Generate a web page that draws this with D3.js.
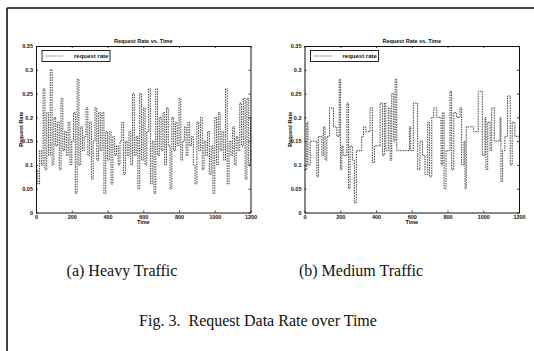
<!DOCTYPE html>
<html>
<head>
<meta charset="utf-8">
<script src="https://cdn.jsdelivr.net/npm/d3@7"></script>
<style>
  html, body { margin: 0; padding: 0; background: #fff; }
  svg { display: block; }
  text { white-space: pre; }
</style>
</head>
<body>
<svg id="chart" width="534" height="351"></svg>
<script>
// ---- data ----
const xTicks = [0, 200, 400, 600, 800, 1000, 1200];
const yTicks = [0, 0.05, 0.1, 0.15, 0.2, 0.25, 0.3, 0.35];
const yTickLabels = ["0", "0.05", "0.1", "0.15", "0.2", "0.25", "0.3", "0.35"];
const legendLabel = "request rate";
const plotTitle = "Request Rate vs. Time";
const xLabel = "Time";
const yLabel = "Request Rate";
const captions = ["(a) Heavy Traffic", "(b) Medium Traffic"];
const figCaption = "Fig. 3.  Request Data Rate over Time";

// Heavy traffic: sample every 10 time units (t = 0..1200)
const heavyTimes = d3.range(0, 1201, 10);
const heavyValues = [
  0.09, 0.06, 0.13, 0.10, 0.26, 0.09, 0.21, 0.12, 0.30, 0.10,
  0.20, 0.14, 0.19, 0.09, 0.24, 0.13, 0.17, 0.12, 0.19, 0.10,
  0.15, 0.21, 0.04, 0.28, 0.10, 0.18, 0.13, 0.16, 0.22, 0.12,
  0.19, 0.07, 0.15, 0.22, 0.11, 0.21, 0.13, 0.21, 0.04, 0.17,
  0.11, 0.17, 0.06, 0.16, 0.12, 0.14, 0.10, 0.15, 0.19, 0.08,
  0.15, 0.12, 0.17, 0.10, 0.25, 0.12, 0.16, 0.05, 0.25, 0.11,
  0.22, 0.10, 0.17, 0.26, 0.06, 0.15, 0.04, 0.26, 0.12, 0.20,
  0.13, 0.21, 0.10, 0.22, 0.14, 0.05, 0.20, 0.13, 0.19, 0.14,
  0.24, 0.11, 0.15, 0.18, 0.12, 0.19, 0.14, 0.16, 0.10, 0.06,
  0.19, 0.13, 0.20, 0.09, 0.15, 0.12, 0.17, 0.08, 0.14, 0.04,
  0.20, 0.10, 0.21, 0.13, 0.17, 0.11, 0.26, 0.06, 0.15, 0.12,
  0.18, 0.10, 0.16, 0.13, 0.23, 0.14, 0.24, 0.07, 0.24, 0.10, 0.20
];

// Medium traffic: step changes (time of change, new value)
const mediumTimes = [
  0, 13, 19, 32, 69, 78, 97, 106, 115, 125, 140, 162, 181, 194, 201, 209, 216,
  237, 246, 255, 268, 279, 290, 320, 330, 343, 367, 380, 391, 423, 436, 447,
  455, 469, 479, 488, 499, 507, 516, 587, 594, 609, 633, 646, 660, 674, 689,
  699, 712, 723, 740, 764, 773, 781, 792, 814, 823, 835, 851, 870, 879, 892,
  898, 905, 945, 972, 995, 1010, 1015, 1025, 1038, 1047, 1062, 1094, 1099,
  1108, 1121, 1136, 1151, 1162, 1177, 1200
];
const mediumValues = [
  0.09, 0.19, 0.10, 0.15, 0.075, 0.16, 0.12, 0.18, 0.11, 0.16, 0.22, 0.18, 0.16,
  0.28, 0.09, 0.14, 0.12, 0.23, 0.05, 0.14, 0.11, 0.02, 0.13, 0.16, 0.18, 0.17,
  0.22, 0.105, 0.14, 0.23, 0.12, 0.23, 0.13, 0.22, 0.11, 0.25, 0.15, 0.28, 0.13,
  0.18, 0.13, 0.23, 0.09, 0.15, 0.12, 0.08, 0.19, 0.075, 0.20, 0.22, 0.20, 0.10,
  0.21, 0.05, 0.13, 0.255, 0.09, 0.21, 0.20, 0.22, 0.10, 0.15, 0.05, 0.18, 0.17,
  0.255, 0.12, 0.20, 0.09, 0.19, 0.13, 0.22, 0.15, 0.20, 0.065, 0.13, 0.16,
  0.245, 0.10, 0.19, 0.16, 0.16
];

// ---- drawing ----
const svg = d3.select("#chart");

// page frame (scan border)
svg.append("line").attr("x1", 7).attr("y1", 8).attr("x2", 534).attr("y2", 8)
  .attr("stroke", "#111").attr("stroke-width", 1.4);
svg.append("line").attr("x1", 7).attr("y1", 8).attr("x2", 7).attr("y2", 351)
  .attr("stroke", "#111").attr("stroke-width", 1.6);

const panels = [
  { left: 36, times: heavyTimes, values: heavyValues, caption: captions[0], capX: 122 },
  { left: 304.5, times: mediumTimes, values: mediumValues, caption: captions[1], capX: 361 }
];
const plotTop = 46, plotBottom = 212.5, plotWidth = 214.5;
const tickFont = "Liberation Sans, Arial, sans-serif";
const serif = "Liberation Serif, Times New Roman, serif";

panels.forEach(p => {
  const g = svg.append("g");
  const x = d3.scaleLinear().domain([0, 1200]).range([p.left, p.left + plotWidth]);
  const y = d3.scaleLinear().domain([0, 0.35]).range([plotBottom, plotTop]);

  // data line
  const pts = p.times.map((t, i) => [t, p.values[i]]);
  const line = d3.line().x(d => x(d[0])).y(d => y(d[1])).curve(d3.curveStepAfter);
  g.append("path").datum(pts)
    .attr("d", line)
    .attr("fill", "none")
    .attr("stroke", "#222")
    .attr("stroke-width", 0.85)
    .attr("stroke-dasharray", "1.5,1");

  // axes (ticks inside, MATLAB style)
  const xAxis = d3.axisBottom(x).tickValues(xTicks).tickSizeInner(-2).tickSizeOuter(0)
    .tickFormat(d3.format("d")).tickPadding(3);
  const yAxis = d3.axisLeft(y).tickValues(yTicks).tickSizeInner(-2).tickSizeOuter(0)
    .tickFormat((d, i) => yTickLabels[i]).tickPadding(3);
  const xAxisTop = d3.axisTop(x).tickValues(xTicks).tickSizeInner(-2).tickSizeOuter(0).tickFormat("");
  const yAxisRight = d3.axisRight(y).tickValues(yTicks).tickSizeInner(-2).tickSizeOuter(0).tickFormat("");

  const gx = g.append("g").attr("transform", `translate(0,${plotBottom})`).call(xAxis);
  const gy = g.append("g").attr("transform", `translate(${p.left},0)`).call(yAxis);
  const gxt = g.append("g").attr("transform", `translate(0,${plotTop})`).call(xAxisTop);
  const gyr = g.append("g").attr("transform", `translate(${p.left + plotWidth},0)`).call(yAxisRight);
  [gx, gy, gxt, gyr].forEach(a => {
    a.selectAll(".domain").attr("stroke", "#111").attr("stroke-width", 1);
    a.selectAll(".tick line").attr("stroke", "#111").attr("stroke-width", 0.8);
    a.selectAll("text").attr("font-family", tickFont).attr("font-size", 5.5)
      .attr("font-weight", "bold").attr("fill", "#111");
  });

  const cx = p.left + plotWidth / 2;
  // title
  g.append("text").attr("x", cx).attr("y", 43).attr("text-anchor", "middle")
    .attr("font-family", tickFont).attr("font-size", 5.5).attr("font-weight", "bold")
    .attr("fill", "#111").text(plotTitle);
  // x label
  g.append("text").attr("x", cx).attr("y", 224).attr("text-anchor", "middle")
    .attr("font-family", tickFont).attr("font-size", 5.5).attr("font-weight", "bold")
    .attr("fill", "#111").text(xLabel);
  // y label
  g.append("text").attr("transform", `translate(${p.left - 13},${(plotTop + plotBottom) / 2}) rotate(-90)`)
    .attr("text-anchor", "middle")
    .attr("font-family", tickFont).attr("font-size", 5.5).attr("font-weight", "bold")
    .attr("fill", "#111").text(yLabel);

  // legend
  const lx = p.left + 6, ly = 50.5;
  g.append("rect").attr("x", lx).attr("y", ly).attr("width", 68).attr("height", 11)
    .attr("fill", "#fff").attr("stroke", "#111").attr("stroke-width", 0.9);
  g.append("line").attr("x1", lx + 4).attr("x2", lx + 22).attr("y1", ly + 5.5).attr("y2", ly + 5.5)
    .attr("stroke", "#333").attr("stroke-width", 0.8).attr("stroke-dasharray", "1,0.8");
  g.append("text").attr("x", lx + 32).attr("y", ly + 7.5)
    .attr("font-family", tickFont).attr("font-size", 6).attr("font-weight", "bold")
    .attr("fill", "#111").text(legendLabel);

  // caption
  svg.append("text").attr("x", p.capX).attr("y", 276).attr("text-anchor", "middle")
    .attr("font-family", serif).attr("font-size", 16)
    .attr("fill", "#111").text(p.caption);
});

svg.append("text").attr("x", 258).attr("y", 326).attr("text-anchor", "middle")
  .attr("font-family", serif).attr("font-size", 16)
  .attr("fill", "#111").text(figCaption);
</script>
</body>
</html>
